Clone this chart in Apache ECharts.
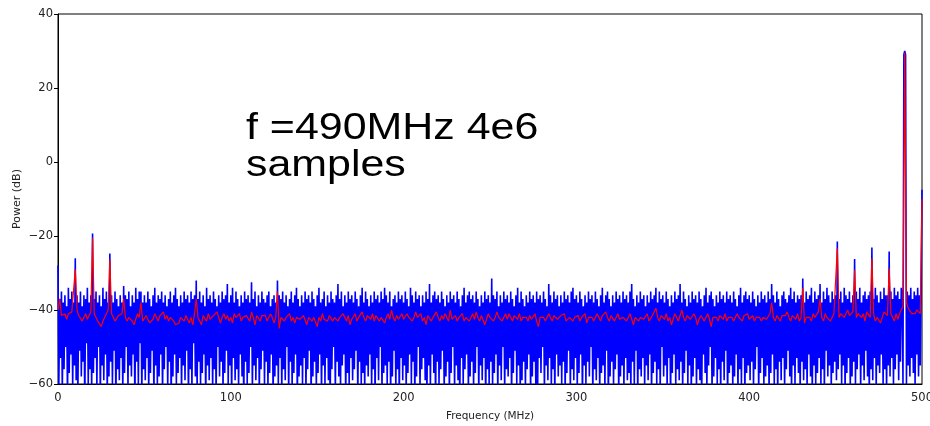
<!DOCTYPE html>
<html><head><meta charset="utf-8">
<script src="https://cdn.jsdelivr.net/npm/echarts@6/dist/echarts.min.js"></script>
<style>html,body{margin:0;padding:0;background:#fff;overflow:hidden}#c{width:930px;height:426px}</style>
</head><body><div id="c"></div>
<script>
// Raw spectrum (blue): one value every 0.5 MHz, 0..500 MHz, dB
const blueStart = 0, blueStep = 0.5;
const blueDb = [
-28,-60,-37,-53,-35,-62,-38,-56,-36,-50,-39,-64,-34,-57,-37,-52,-35,-61,-38,-55,
-26,-59,-36,-63,-38,-51,-35,-58,-39,-54,-36,-66,-37,-49,-34,-60,-38,-56,-36,-62,
-19.3,-57,-37,-53,-35,-61,-38,-50,-36,-64,-39,-55,-34,-59,-37,-52,-35,-63,-38,-58,
-24.7,-54,-36,-60,-38,-51,-35,-65,-37,-56,-39,-59,-36,-53,-38,-62,-33.5,-57,-36,-50,
-37,-61,-35,-55,-39,-58,-36,-52,-38,-66,-34,-54,-37,-60,-35,-49,-35,-63,-38,-56,
-36,-59,-38,-53,-35,-62,-37,-57,-39,-51,-36,-64,-34,-55,-38,-60,-36,-58,-37,-52,
-35,-63,-38,-56,-36,-50,-39,-61,-37,-54,-35,-65,-38,-58,-36,-52,-34,-60,-37,-57,
-39,-53,-36,-62,-38,-55,-35,-59,-37,-51,-36,-64,-38,-56,-35,-61,-37,-49,-36,-58,
-32,-62,-37,-54,-35,-60,-38,-57,-36,-52,-39,-65,-34,-55,-37,-59,-36,-53,-38,-61,
-35,-56,-37,-63,-39,-50,-36,-58,-38,-54,-35,-62,-37,-57,-36,-51,-33,-60,-38,-55,
-36,-64,-34,-53,-38,-59,-35,-56,-37,-61,-39,-52,-36,-58,-38,-66,-35,-54,-37,-60,
-36,-57,-38,-50,-32.5,-62,-37,-55,-35,-59,-39,-53,-36,-63,-38,-56,-35,-51,-37,-60,
-38,-54,-36,-61,-35,-57,-39,-52,-37,-64,-36,-58,-38,-55,-32,-60,-36,-53,-37,-62,
-35,-56,-38,-59,-36,-50,-39,-63,-37,-54,-35,-61,-38,-57,-36,-52,-34,-65,-37,-58,
-39,-55,-36,-60,-38,-53,-35,-62,-37,-56,-36,-51,-38,-64,-35,-58,-37,-54,-39,-61,
-36,-57,-34,-52,-38,-63,-37,-55,-35,-60,-39,-53,-36,-59,-38,-66,-35,-56,-37,-50,
-38,-62,-36,-54,-33,-58,-37,-61,-35,-55,-39,-52,-36,-64,-38,-57,-35,-60,-37,-53,
-36,-59,-38,-56,-35,-51,-37,-63,-39,-54,-36,-60,-34,-57,-38,-62,-35,-55,-37,-58,
-39,-52,-36,-61,-38,-56,-35,-64,-37,-53,-36,-59,-38,-50,-35,-62,-37,-57,-34,-55,
-36,-60,-38,-54,-35,-63,-39,-58,-37,-51,-36,-61,-38,-56,-35,-65,-37,-53,-36,-59,
-38,-55,-35,-62,-37,-57,-39,-52,-34,-60,-36,-54,-38,-64,-35,-58,-37,-50,-36,-61,
-39,-56,-36,-53,-38,-59,-35,-63,-37,-55,-33,-61,-38,-52,-36,-57,-35,-66,-37,-54,
-36,-60,-38,-56,-35,-51,-37,-62,-39,-58,-36,-54,-38,-63,-35,-57,-37,-50,-36,-61,
-38,-55,-35,-59,-37,-64,-39,-53,-36,-60,-34,-56,-38,-52,-36,-62,-35,-58,-37,-54,
-36,-61,-38,-57,-35,-50,-37,-63,-39,-55,-36,-59,-38,-53,-35,-65,-37,-56,-36,-60,
-38,-54,-31.5,-61,-36,-57,-37,-52,-35,-63,-39,-55,-36,-59,-38,-50,-35,-62,-37,-56,
-36,-58,-38,-53,-35,-64,-37,-57,-39,-51,-36,-60,-34,-55,-38,-62,-35,-59,-37,-54,
-39,-61,-36,-56,-38,-52,-35,-63,-37,-58,-36,-54,-38,-60,-35,-66,-37,-53,-36,-57,
-38,-50,-35,-62,-37,-55,-39,-59,-33,-53,-36,-61,-38,-56,-35,-64,-37,-52,-36,-58,
-39,-55,-36,-60,-38,-54,-35,-63,-37,-57,-36,-51,-38,-62,-35,-56,-34,-59,-37,-53,
-36,-61,-38,-57,-35,-52,-37,-64,-39,-55,-36,-60,-38,-54,-35,-58,-37,-50,-36,-63,
-38,-56,-35,-59,-37,-53,-39,-62,-36,-57,-34,-55,-38,-61,-36,-51,-35,-65,-37,-58,
-39,-54,-36,-60,-38,-56,-35,-52,-37,-63,-36,-58,-38,-55,-35,-61,-37,-53,-36,-59,
-38,-57,-35,-62,-33,-54,-37,-60,-39,-51,-36,-64,-38,-56,-35,-58,-37,-53,-36,-61,
-39,-55,-36,-59,-38,-52,-35,-63,-37,-57,-36,-54,-34,-60,-38,-56,-35,-62,-37,-50,
-36,-58,-38,-55,-35,-61,-37,-53,-39,-64,-36,-57,-38,-52,-35,-60,-37,-56,-36,-59,
-33,-54,-38,-62,-35,-57,-37,-51,-39,-60,-36,-55,-38,-63,-35,-58,-37,-53,-36,-61,
-38,-56,-35,-59,-37,-64,-39,-52,-36,-57,-34,-61,-38,-55,-36,-50,-35,-62,-37,-58,
-39,-53,-36,-60,-38,-56,-35,-63,-37,-54,-36,-59,-38,-51,-35,-65,-37,-57,-36,-55,
-38,-61,-35,-58,-37,-52,-39,-62,-36,-56,-34,-60,-38,-53,-36,-64,-35,-57,-37,-55,
-36,-59,-38,-54,-35,-61,-37,-56,-39,-50,-36,-63,-38,-57,-35,-53,-37,-60,-36,-58,
-38,-55,-35,-62,-37,-57,-33,-52,-36,-60,-38,-56,-35,-64,-37,-54,-39,-59,-36,-53,
-35,-61,-37,-56,-38,-51,-36,-58,-34,-63,-37,-55,-35,-60,-38,-53,-36,-57,-37,-62,
-36,-54,-31.5,-59,-38,-56,-35,-61,-37,-52,-36,-58,-34,-63,-38,-55,-35,-60,-37,-57,
-36,-53,-33,-60,-38,-56,-35,-62,-37,-51,-34,-58,-36,-55,-38,-61,-35,-57,-37,-54,
-36,-59,-21.5,-56,-37,-52,-35,-60,-38,-55,-34,-63,-36,-57,-37,-53,-35,-61,-38,-58,
-36,-54,-26.2,-60,-35,-56,-37,-52,-34,-62,-38,-55,-36,-59,-35,-51,-37,-58,-36,-63,
-35,-56,-23.1,-59,-37,-53,-34,-61,-36,-55,-38,-57,-35,-52,-37,-60,-34,-56,-36,-62,
-36,-55,-24.2,-58,-35,-53,-37,-60,-34,-56,-36,-52,-35,-59,-37,-54,-34,-36,-60,29,
30,29,-60,-35,-55,-36,-58,-34,-53,-37,-57,-35,-60,-36,-52,-34,-58,-36,-55,-35,
-7.5
];
// Averaged spectrum (red): one value per MHz, 0..500 MHz, dB
const redStart = 0, redStep = 1;
const redDb = [
-40,-37,-41.5,-42,-41,-42.5,-41,-41.5,-40.5,-40,-29,-40,-41.5,-42,-43,-42.5,-41,-42.5,-41.5,-40.5,
-20.5,-41,-42,-43,-42.5,-44.5,-43,-42,-41.5,-40,-26.3,-41,-42,-43,-42.5,-41.5,-42,-41,-37,-42,
-43,-42,-41.5,-43,-44,-42.5,-41,-42,-38,-43,-42.5,-41.5,-42,-43.5,-44,-42.5,-41,-42,-43,-41.5,
-42,-40.5,-42.5,-41.5,-43,-42,-42.5,-43,-44,-44.5,-43.5,-42,-42.5,-43,-41.5,-42,-43.5,-42,-44,-41,
-37,-42,-43,-44,-41.5,-42,-43,-41,-42.5,-43,-41.5,-42,-40.5,-42,-43.5,-42,-41,-42.5,-41.5,-43,
-42,-43.5,-41,-42,-42.5,-41,-43,-42,-42.5,-41.5,-42,-43,-40.5,-42,-44,-41.5,-42,-43,-41.5,-42,
-41.5,-43,-42.5,-41,-42,-43.5,-42,-35,-45,-42,-41.5,-43,-42,-42.5,-41,-43,-42,-43.5,-42,-41.5,
-42.5,-43,-41.5,-42,-44,-42,-41.5,-43,-42,-42.5,-44.5,-42,-43,-41,-42.5,-42,-43,-41.5,-42,-43,
-42,-41.5,-43,-42,-42.5,-41,-42,-43,-41.5,-44,-42.5,-42,-41,-43,-42,-42.5,-40.5,-42,-43,-41.5,
-42,-42.5,-41,-43,-41.5,-42,-43,-42,-41.5,-43.5,-42,-41,-42.5,-40,-42,-43,-41.5,-42.5,-42,-41,
-42.5,-43,-41,-42,-41.5,-43,-42,-40.5,-42,-42.5,-41,-43,-42,-44,-41.5,-42,-43,-42,-41.5,-40.5,
-42,-43,-41.5,-42.5,-41,-42,-43,-40,-42.5,-42,-41.5,-43,-42,-42.5,-41,-43,-42,-41.5,-43,-42,
-41,-42.5,-40.5,-42,-43,-41.5,-42,-44,-42.5,-41,-42,-41.5,-43,-42,-40.5,-42,-41.5,-43,-42,-41,
-42.5,-41,-42,-43,-41.5,-42,-42.5,-41,-43,-42,-41.5,-42,-43,-41.5,-42.5,-42,-41,-43,-44.5,-42,
-41.5,-42,-43,-42.5,-41,-42,-43,-41.5,-42,-42.5,-43,-41.5,-42,-41,-43,-42.5,-42,-41.5,-43,-42,
-42,-41.5,-43,-42,-42.5,-41,-43.5,-42,-41.5,-42,-43,-42.5,-41,-42,-43,-41.5,-42,-40.5,-42,-43,
-41.5,-42,-43,-42,-41,-42.5,-43,-42,-41.5,-43,-42,-41,-42.5,-44,-42,-41.5,-43,-42,-41.5,-42.5,
-42,-41,-43,-42.5,-41.5,-42,-39.5,-42,-43,-41.5,-42,-42.5,-41,-43,-42,-44,-42.5,-41,-42,-43,
-41.5,-40,-42,-43,-41.5,-42,-42.5,-43,-41,-42,-44,-42.5,-41.5,-42,-43,-42,-41,-42.5,-44.5,-42,
-41.5,-42,-43,-41.5,-42,-42.5,-41,-43,-42,-41.5,-42,-43,-42.5,-41,-42,-42.5,-43,-41.5,-42,-41,
-42.5,-42,-41.5,-43,-42,-41.5,-42,-43,-42,-41.5,-42.5,-42,-41,-38,-42,-43,-41.5,-42,-43,-41.5,
-42,-41.5,-40.5,-42,-43,-41.5,-42,-42.5,-41,-43,-42,-34,-43.5,-42,-41.5,-42,-43,-41,-42,-41.5,
-40.5,-37,-42,-43,-41,-42,-41.5,-43,-42,-41,-40.5,-23.3,-42,-41,-40.5,-42,-41,-40,-41.5,-42,
-40.5,-29.2,-42,-41,-40.5,-42,-41,-43,-40.5,-41,-42,-26,-41,-43,-42,-41.5,-43.5,-42,-40.5,-41,
-41.5,-28.7,-41,-42,-43,-41,-42.5,-41,-40,-39,29.5,-38,-39.5,-40,-41,-40.5,-41,-40,-40.5,-41,
-10
];
const xTicks = [0, 100, 200, 300, 400, 500];
const yTicks = [-60, -40, -20, 0, 20, 40];
const titleLines = ['f =490MHz 4e6', 'samples'];

const toPairs = (arr, start, step) => arr.map((v, i) => [start + i * step, v]);
const tickFont = 'DejaVu Sans';
const chart = echarts.init(document.getElementById('c'), null, {renderer: 'canvas', width: 930, height: 426});
chart.setOption({
  animation: false,
  backgroundColor: '#fff',
  grid: {left: 58, width: 864, top: 14, height: 370, outerBoundsMode: 'none', containLabel: false,
         show: true, borderColor: '#000', borderWidth: 1, backgroundColor: 'transparent'},
  xAxis: {
    type: 'value', min: xTicks[0], max: xTicks[xTicks.length - 1], interval: 100,
    name: 'Frequency (MHz)', nameLocation: 'middle', nameGap: 27, nameMoveOverlap: false,
    nameTextStyle: {fontFamily: tickFont, fontSize: 10.5, color: '#222'},
    axisLine: {show: true, onZero: false, lineStyle: {color: '#000', width: 1}},
    axisTick: {show: false},
    splitLine: {show: false},
    axisLabel: {fontFamily: tickFont, fontSize: 11.5, color: '#222', margin: 8}
  },
  yAxis: {
    type: 'value', min: yTicks[0], max: yTicks[yTicks.length - 1], interval: 20,
    name: 'Power (dB)', nameLocation: 'middle', nameGap: 35, nameMoveOverlap: false,
    nameTextStyle: {fontFamily: tickFont, fontSize: 11, color: '#222'},
    axisLine: {show: true, onZero: false, lineStyle: {color: '#000', width: 1}},
    axisTick: {show: true, length: 4, lineStyle: {color: '#000'}},
    splitLine: {show: false},
    axisLabel: {fontFamily: tickFont, fontSize: 11.5, color: '#222', margin: 5,
      formatter: v => v < 0 ? '\u2212' + (-v) : String(v)}
  },
  graphic: [{
    type: 'text', x: 246, y: 110, scaleX: 1.16, scaleY: 1, silent: true,
    style: {text: titleLines.join('\n'), fontFamily: 'Liberation Sans', fontSize: 37, lineHeight: 37, fill: '#000', verticalAlign: 'top', align: 'left'}
  }],
  series: [
    {type: 'line', data: toPairs(blueDb, blueStart, blueStep), showSymbol: false, symbol: 'none', sampling: null,
     lineStyle: {color: '#0000ff', width: 1.6}, clip: true, z: 2},
    {type: 'line', data: toPairs(redDb, redStart, redStep), showSymbol: false, symbol: 'none',
     lineStyle: {color: '#ff0000', width: 1.2}, clip: true, z: 3}
  ]
});
</script>
</body></html>
